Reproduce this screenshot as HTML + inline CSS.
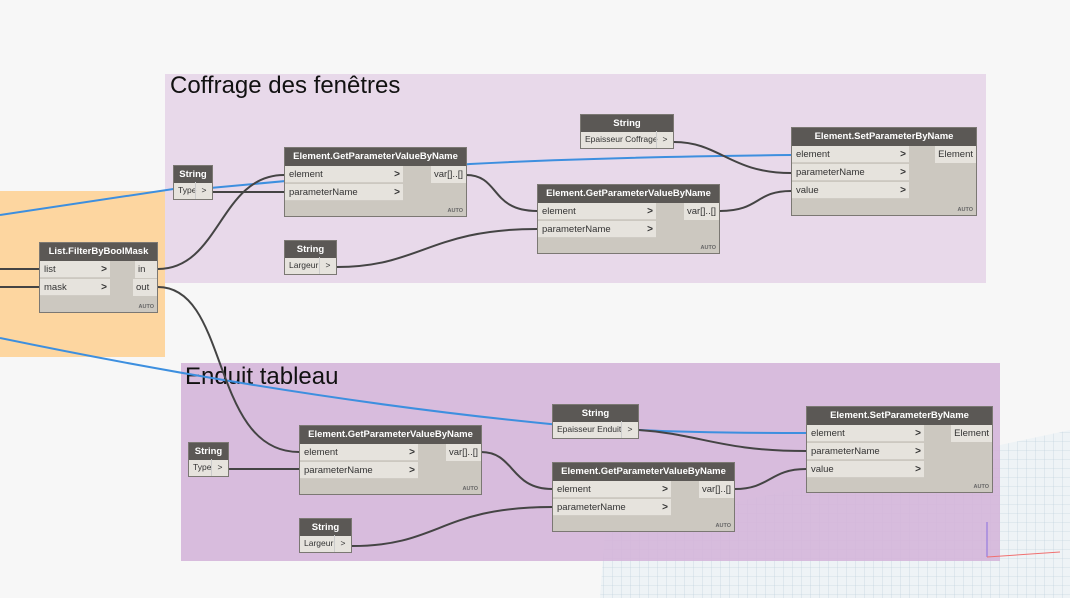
<!DOCTYPE html>
<html><head><meta charset="utf-8"><style>
body{margin:0;width:1070px;height:598px;overflow:hidden;background:#f7f7f7;font-family:"Liberation Sans",sans-serif;position:relative}
.g{position:absolute}
.t{position:absolute;font-size:24px;color:#111;white-space:nowrap}
.n{position:absolute;background:#ccc8c0;border:1px solid #7b7873;box-sizing:border-box;font-size:9.5px;color:#333}
.h{height:18px;background:#5b5855;color:#fff;font-weight:bold;text-align:center;line-height:18px;font-size:9.5px;white-space:nowrap}
.r{position:absolute;left:0;height:17px;background:#e6e3dd;border-bottom:1px solid #d0ccc5;line-height:17px;padding-left:4px;box-sizing:border-box;white-space:nowrap}
.r b{position:absolute;right:3px;top:0;font-weight:bold;font-size:10px;color:#333}
.o{position:absolute;right:0;height:17px;background:#e6e3dd;line-height:17px;padding:0 3px;white-space:nowrap}
.a{position:absolute;right:3px;bottom:2px;font-size:5.5px;font-weight:bold;color:#666}
.s{position:absolute;border:1px solid #7b7873;box-sizing:border-box;background:#e6e3dd;font-size:8.5px;color:#333}
.s .h{height:17px;line-height:17px}
.s .v{position:absolute;left:0;bottom:0;height:17px;line-height:17px;padding-left:4px;white-space:nowrap}
.s .p{position:absolute;right:0;bottom:0;height:17px;width:16px;border-left:1px solid #ccc;text-align:center;line-height:17px}
</style></head><body>
<svg class="g" style="left:0;top:0" width="1070" height="598">
<defs><pattern id="grid" width="9" height="9" patternUnits="userSpaceOnUse"><path d="M9 0H0V9" fill="none" stroke="#b8ccd8" stroke-width="0.6"/></pattern></defs>
<polygon points="600,598 605,530 1070,430 1070,598" fill="#eef3f6"/>
<polygon points="600,598 605,530 1070,430 1070,598" fill="url(#grid)"/>
</svg>
<div class="g" style="left:0;top:191px;width:165px;height:166px;background:#fdd6a0"></div>
<div class="g" style="left:165px;top:74px;width:821px;height:209px;background:#e8d9ea"></div>
<div class="g" style="left:181px;top:363px;width:819px;height:198px;background:rgba(212,180,218,0.88)"></div>
<div class="t" style="left:170px;top:72px">Coffrage des fenêtres</div>
<div class="t" style="left:185px;top:363px">Enduit tableau</div>
<svg class="g" style="left:0;top:0" width="1070" height="598">
<line x1="987" y1="522" x2="987" y2="557" stroke="#8a6ee0" stroke-width="1"/>
<line x1="987" y1="557" x2="1060" y2="552" stroke="#f07070" stroke-width="1"/>
<g fill="none" stroke-width="2">
<path d="M0 215 L180 188 M210 188 L470 164 Q600 157 791 155" stroke="#3d8fdf"/>
<path d="M0 338 Q300 400 560 425 L639 430 Q700 433 806 433" stroke="#3d8fdf"/>
<g stroke="#444">
<path d="M0 269 L40 269"/><path d="M0 287 L40 287"/>
<path d="M158 269 C220 269 220 175 284 175"/>
<path d="M213 192 L284 192"/>
<path d="M158 287 C230 287 210 452 299 452"/>
<path d="M466 175 C500 175 490 211 537 211"/>
<path d="M337 267 C420 267 430 229 537 229"/>
<path d="M674 142 C720 142 730 173 791 173"/>
<path d="M720 211 C760 211 755 191 791 191"/>
<path d="M229 469 L299 469"/>
<path d="M481 452 C515 452 510 489 552 489"/>
<path d="M352 546 C440 546 440 507 552 507"/>
<path d="M639 430 C700 434 720 451 806 451"/>
<path d="M735 489 C770 489 770 469 806 469"/>
</g></g>
</svg>

<div class="s" style="left:173px;top:165px;width:40px;height:35px"><div class="h">String</div><div class="v">Type</div><div class="p">&gt;</div></div>
<div class="s" style="left:284px;top:240px;width:53px;height:35px"><div class="h">String</div><div class="v">Largeur</div><div class="p">&gt;</div></div>
<div class="s" style="left:580px;top:114px;width:94px;height:35px"><div class="h">String</div><div class="v">Epaisseur Coffrage</div><div class="p">&gt;</div></div>
<div class="s" style="left:188px;top:442px;width:41px;height:35px"><div class="h">String</div><div class="v">Type</div><div class="p">&gt;</div></div>
<div class="s" style="left:299px;top:518px;width:53px;height:35px"><div class="h">String</div><div class="v">Largeur</div><div class="p">&gt;</div></div>
<div class="s" style="left:552px;top:404px;width:87px;height:35px"><div class="h">String</div><div class="v">Epaisseur Enduit</div><div class="p">&gt;</div></div>

<div class="n" style="left:39px;top:242px;width:119px;height:71px"><div class="h">List.FilterByBoolMask</div>
<div class="r" style="top:18px;width:70px">list<b>&gt;</b></div><div class="r" style="top:36px;width:70px">mask<b>&gt;</b></div>
<div class="o" style="top:18px;width:16px">in</div><div class="o" style="top:36px;width:18px">out</div><div class="a">AUTO</div></div>

<div class="n" style="left:284px;top:147px;width:183px;height:70px"><div class="h">Element.GetParameterValueByName</div>
<div class="r" style="top:18px;width:118px">element<b>&gt;</b></div><div class="r" style="top:36px;width:118px">parameterName<b>&gt;</b></div>
<div class="o" style="top:18px">var[]..[]</div><div class="a">AUTO</div></div>

<div class="n" style="left:537px;top:184px;width:183px;height:70px"><div class="h">Element.GetParameterValueByName</div>
<div class="r" style="top:18px;width:118px">element<b>&gt;</b></div><div class="r" style="top:36px;width:118px">parameterName<b>&gt;</b></div>
<div class="o" style="top:18px">var[]..[]</div><div class="a">AUTO</div></div>

<div class="n" style="left:791px;top:127px;width:186px;height:89px"><div class="h">Element.SetParameterByName</div>
<div class="r" style="top:18px;width:117px">element<b>&gt;</b></div><div class="r" style="top:36px;width:117px">parameterName<b>&gt;</b></div><div class="r" style="top:54px;width:117px">value<b>&gt;</b></div>
<div class="o" style="top:18px">Element</div><div class="a">AUTO</div></div>

<div class="n" style="left:299px;top:425px;width:183px;height:70px"><div class="h">Element.GetParameterValueByName</div>
<div class="r" style="top:18px;width:118px">element<b>&gt;</b></div><div class="r" style="top:36px;width:118px">parameterName<b>&gt;</b></div>
<div class="o" style="top:18px">var[]..[]</div><div class="a">AUTO</div></div>

<div class="n" style="left:552px;top:462px;width:183px;height:70px"><div class="h">Element.GetParameterValueByName</div>
<div class="r" style="top:18px;width:118px">element<b>&gt;</b></div><div class="r" style="top:36px;width:118px">parameterName<b>&gt;</b></div>
<div class="o" style="top:18px">var[]..[]</div><div class="a">AUTO</div></div>

<div class="n" style="left:806px;top:406px;width:187px;height:87px"><div class="h">Element.SetParameterByName</div>
<div class="r" style="top:18px;width:117px">element<b>&gt;</b></div><div class="r" style="top:36px;width:117px">parameterName<b>&gt;</b></div><div class="r" style="top:54px;width:117px">value<b>&gt;</b></div>
<div class="o" style="top:18px">Element</div><div class="a">AUTO</div></div>
</body></html>
